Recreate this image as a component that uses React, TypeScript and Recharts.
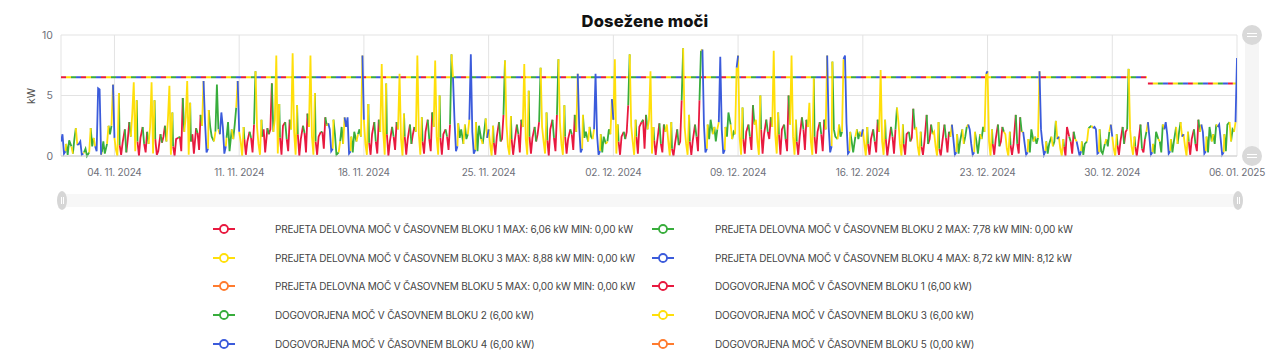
import React from 'react';
import { LineChart, Line, XAxis, YAxis, CartesianGrid } from 'recharts';

// ---- time structure (hours from 01.11.2024 00:00) ----
const SLOT_HOURS = [0, 2, 4, 6, 7, 9, 11, 14, 16, 18, 20, 22];
const WORKDAY_BLOCKS = [3, 3, 3, 2, 1, 1, 1, 2, 1, 1, 2, 3];
const FREEDAY_BLOCKS = [4, 4, 4, 3, 2, 2, 2, 3, 2, 2, 3, 4];
// day indexes (0 = 01.11.2024) that are weekends or holidays
const FREE_DAYS = [0, 1, 2, 8, 9, 15, 16, 22, 23, 29, 30, 36, 37, 43, 44, 50, 51, 54, 55, 57, 58, 61, 62, 64, 65];

// ---- measured power (kW), one row per day, one value per slot ----
const NOVEMBER: number[][] = [
  [1.2, 1.8, 0.2, 0.4, 1.0, 0.1, 1.3, 0.8, 0.2, 1.4, 2.3, 0.9],
  [1.0, 1.2, 0.1, 0.2, 0.3, 0.6, 0.0, 0.3, 2.3, 0.8, 1.5, 0.8],
  [0.4, 5.6, 5.5, 0.1, 0.3, 1.2, 0.2, 1.0, 2.5, 1.8, 2.5, 5.9],
  [1.5, 0.5, 0.0, 5.2, 0.9, 0.1, 1.1, 2.2, 0.3, 1.4, 2.8, 1.6],
  [3.5, 6.1, 0.4, 4.6, 1.2, 0.0, 1.5, 2.4, 1.0, 0.3, 2.0, 1.0],
  [2.4, 6.1, 0.2, 4.6, 1.4, 0.1, 0.4, 1.8, 1.1, 1.6, 2.5, 1.2],
  [3.0, 5.8, 0.1, 3.6, 0.8, 0.0, 1.4, 1.5, 1.6, 0.4, 4.8, 2.0],
  [3.2, 6.2, 0.1, 4.4, 1.2, 1.8, 0.2, 2.3, 1.9, 0.5, 3.4, 2.5],
  [6.2, 2.8, 0.3, 0.6, 3.8, 2.4, 1.6, 1.2, 2.0, 5.9, 2.2, 1.8],
  [3.6, 2.4, 0.2, 0.8, 1.5, 2.8, 0.4, 2.2, 1.4, 2.6, 4.0, 6.2],
  [2.0, 1.2, 0.0, 2.4, 1.4, 0.1, 1.2, 2.0, 1.5, 0.3, 2.6, 7.0],
  [2.4, 1.0, 0.1, 3.0, 1.6, 2.2, 0.3, 2.3, 1.8, 2.2, 6.0, 2.0],
  [3.0, 8.3, 0.2, 4.3, 1.5, 0.1, 2.5, 2.8, 1.4, 0.4, 3.0, 2.2],
  [8.5, 2.0, 0.1, 4.2, 1.8, 0.0, 1.4, 2.5, 1.9, 0.3, 3.5, 2.4],
  [8.3, 1.6, 0.1, 5.2, 1.2, 0.1, 1.6, 2.0, 2.0, 0.6, 3.2, 2.5],
  [2.7, 2.2, 0.4, 0.6, 3.0, 1.8, 0.1, 0.3, 1.2, 2.4, 1.0, 3.2],
  [2.4, 3.2, 0.2, 0.4, 1.6, 0.3, 2.0, 1.2, 1.8, 2.2, 1.6, 8.3],
  [3.0, 1.0, 0.1, 4.3, 1.1, 0.1, 1.8, 2.8, 1.2, 0.2, 3.0, 2.0],
  [7.6, 2.0, 0.1, 6.0, 1.8, 0.0, 1.2, 2.4, 1.6, 0.5, 2.8, 2.2],
  [6.8, 1.4, 0.0, 3.5, 1.6, 0.1, 1.4, 2.6, 1.0, 1.8, 2.4, 2.0],
  [8.3, 1.8, 0.1, 3.2, 1.2, 0.2, 2.0, 3.0, 1.4, 0.4, 3.6, 2.4],
  [7.9, 1.6, 0.1, 5.0, 1.5, 0.1, 1.8, 2.2, 1.6, 0.5, 2.6, 8.4],
  [6.5, 3.0, 0.4, 0.8, 2.7, 1.5, 2.2, 1.0, 2.6, 1.4, 1.8, 3.0],
  [8.4, 2.0, 0.2, 0.5, 2.8, 0.4, 2.5, 1.4, 1.0, 2.0, 3.1, 1.5],
  [2.2, 1.0, 0.0, 2.5, 1.1, 0.1, 1.6, 2.8, 1.2, 1.4, 3.4, 7.9],
  [2.6, 0.8, 0.1, 3.3, 1.4, 0.1, 1.2, 2.6, 1.8, 0.3, 3.0, 2.4],
  [7.6, 1.4, 0.1, 5.4, 1.6, 0.2, 1.5, 2.4, 1.2, 1.8, 2.8, 7.3],
  [2.4, 1.2, 0.2, 3.6, 1.3, 0.0, 2.2, 3.0, 1.5, 0.4, 3.4, 8.0],
  [2.8, 1.0, 0.1, 4.2, 1.6, 0.2, 1.4, 2.2, 1.8, 0.5, 3.4, 2.0],
  [6.8, 2.4, 0.3, 0.6, 3.4, 1.5, 2.0, 1.2, 2.4, 1.6, 1.4, 2.2],
];
const DECEMBER: number[][] = [
  [6.8, 1.8, 0.1, 0.4, 1.8, 0.3, 1.6, 1.0, 1.2, 2.2, 1.8, 4.7],
  [3.0, 8.0, 0.2, 2.6, 1.2, 0.1, 1.6, 2.0, 1.4, 2.0, 4.2, 8.4],
  [2.5, 1.2, 0.1, 3.0, 1.6, 0.2, 2.4, 2.8, 3.0, 0.6, 3.4, 2.2],
  [3.0, 7.0, 0.2, 2.4, 1.3, 0.1, 1.2, 2.7, 1.0, 0.3, 2.6, 2.0],
  [2.6, 1.2, 0.0, 2.8, 0.6, 0.0, 1.0, 2.2, 0.9, 1.2, 4.6, 8.9],
  [2.4, 1.0, 0.1, 3.4, 1.2, 0.1, 1.3, 2.6, 1.6, 0.4, 4.6, 8.7],
  [8.8, 2.6, 0.3, 0.6, 2.6, 1.4, 3.0, 1.8, 2.4, 1.2, 2.2, 2.8],
  [8.2, 2.2, 0.2, 0.5, 2.4, 1.6, 3.6, 2.6, 1.4, 2.0, 1.8, 7.3],
  [8.3, 1.6, 0.1, 4.0, 1.4, 0.2, 2.0, 2.6, 1.6, 0.5, 4.2, 2.6],
  [3.0, 1.2, 0.1, 5.0, 2.2, 0.2, 1.8, 3.0, 2.0, 1.4, 3.2, 2.4],
  [8.7, 1.8, 0.2, 3.6, 1.8, 0.1, 2.2, 2.6, 1.4, 0.4, 5.0, 2.6],
  [8.3, 1.6, 0.1, 3.0, 1.2, 0.1, 1.6, 3.2, 2.2, 0.5, 3.0, 2.4],
  [4.4, 1.2, 0.1, 6.4, 1.6, 0.2, 2.0, 2.8, 1.8, 0.4, 3.0, 2.2],
  [8.3, 2.4, 0.3, 0.8, 7.8, 2.2, 1.6, 1.4, 2.6, 1.6, 2.0, 8.0],
  [8.3, 2.7, 0.2, 0.4, 2.0, 1.2, 0.3, 1.6, 2.2, 1.4, 2.0, 1.6],
  [2.2, 1.0, 0.0, 2.4, 1.0, 0.1, 1.4, 2.2, 1.2, 0.3, 3.0, 2.0],
  [7.1, 1.2, 0.1, 3.0, 1.4, 0.0, 1.0, 2.4, 1.6, 0.2, 2.2, 4.0],
  [2.8, 1.0, 0.0, 2.6, 1.0, 0.1, 1.8, 2.0, 1.2, 1.5, 3.9, 2.2],
  [2.3, 0.8, 0.0, 2.0, 0.8, 0.1, 1.2, 3.4, 1.0, 1.4, 2.6, 1.8],
  [2.0, 0.8, 0.0, 2.8, 0.6, 0.0, 1.1, 2.6, 1.5, 0.3, 2.0, 1.6],
  [2.6, 1.4, 0.1, 0.3, 1.8, 0.2, 1.2, 2.2, 1.0, 1.6, 2.4, 2.6],
  [2.2, 1.0, 0.1, 0.3, 2.0, 1.2, 0.2, 1.8, 1.4, 2.4, 2.0, 6.8],
  [7.0, 1.2, 0.0, 2.2, 1.0, 0.1, 1.4, 2.6, 0.8, 1.2, 2.4, 2.0],
  [1.8, 0.6, 0.0, 2.0, 0.9, 0.1, 1.0, 3.4, 1.0, 0.2, 3.2, 2.0],
  [2.0, 1.0, 0.1, 0.3, 1.4, 0.3, 2.2, 1.2, 1.6, 1.0, 1.5, 7.0],
  [2.2, 1.0, 0.1, 0.4, 1.2, 0.2, 1.0, 1.6, 0.8, 1.2, 2.9, 1.4],
  [1.6, 0.6, 0.0, 1.4, 0.8, 0.0, 2.4, 1.6, 1.2, 0.2, 2.0, 1.4],
  [1.2, 0.6, 0.0, 0.4, 1.2, 0.1, 1.0, 1.2, 2.3, 2.4, 2.5, 2.3],
  [2.4, 2.2, 0.2, 0.3, 2.2, 0.4, 0.2, 1.0, 1.4, 0.8, 2.0, 2.6],
  [1.6, 0.6, 0.0, 1.8, 0.9, 0.1, 1.2, 2.4, 1.0, 2.0, 2.2, 7.2],
  [2.2, 0.8, 0.1, 1.6, 0.8, 0.0, 1.0, 2.6, 0.6, 0.3, 1.4, 2.0],
];
const JANUARY: number[][] = [
  [2.8, 1.6, 0.1, 0.3, 1.0, 0.2, 2.0, 1.4, 1.2, 0.3, 2.6, 2.2],
  [2.8, 1.8, 0.2, 0.4, 1.4, 0.3, 1.2, 2.4, 1.0, 2.0, 2.8, 1.6],
  [1.8, 0.8, 0.0, 2.0, 1.2, 0.1, 1.4, 2.2, 1.0, 0.4, 3.0, 2.0],
  [2.6, 2.0, 0.2, 0.4, 1.6, 0.3, 2.4, 1.2, 1.8, 1.0, 2.6, 2.4],
  [2.6, 1.4, 0.1, 0.3, 1.8, 0.4, 2.6, 2.8, 1.2, 2.2, 2.0, 2.8],
];
const END_VALUE = 8.1; // 06.01.2025 00:00

// ---- contracted power lines (kW) ----
const AGREED_START_DAYS = [0, 61];
const AGREED_END_DAYS = [60.95, 66];
const AGREED_VALUES = [6.5, 6.0];

// ---- axis ----
const TICK_DAYS = [3, 10, 17, 24, 31, 38, 45, 52, 59, 66];
const TICK_LABELS = ['04. 11. 2024', '11. 11. 2024', '18. 11. 2024', '25. 11. 2024', '02. 12. 2024', '09. 12. 2024', '16. 12. 2024', '23. 12. 2024', '30. 12. 2024', '06. 01. 2025'];
const Y_TICKS = [0, 5, 10];

// ---- legend ----
const RED = '#e8193f';
const GREEN = '#38ad3c';
const YELLOW = '#ffdf0a';
const BLUE = '#3b5bdb';
const ORANGE = '#ff7b2e';
const BLOCK_COLORS = [RED, GREEN, YELLOW, BLUE, ORANGE];
const LEGEND_LABELS = [
  'PREJETA DELOVNA MOČ V ČASOVNEM BLOKU 1 MAX: 6,06 kW MIN: 0,00 kW',
  'PREJETA DELOVNA MOČ V ČASOVNEM BLOKU 2 MAX: 7,78 kW MIN: 0,00 kW',
  'PREJETA DELOVNA MOČ V ČASOVNEM BLOKU 3 MAX: 8,88 kW MIN: 0,00 kW',
  'PREJETA DELOVNA MOČ V ČASOVNEM BLOKU 4 MAX: 8,72 kW MIN: 8,12 kW',
  'PREJETA DELOVNA MOČ V ČASOVNEM BLOKU 5 MAX: 0,00 kW MIN: 0,00 kW',
  'DOGOVORJENA MOČ V ČASOVNEM BLOKU 1 (6,00 kW)',
  'DOGOVORJENA MOČ V ČASOVNEM BLOKU 2 (6,00 kW)',
  'DOGOVORJENA MOČ V ČASOVNEM BLOKU 3 (6,00 kW)',
  'DOGOVORJENA MOČ V ČASOVNEM BLOKU 4 (6,00 kW)',
  'DOGOVORJENA MOČ V ČASOVNEM BLOKU 5 (0,00 kW)',
];
const LEGEND_COLORS = [RED, GREEN, YELLOW, BLUE, ORANGE, RED, GREEN, YELLOW, BLUE, ORANGE];

type Pt = { t: number; b1: number | null; b2: number | null; b3: number | null; b4: number | null };

function emptyPt(t: number): Pt {
  return { t, b1: null, b2: null, b3: null, b4: null };
}

function buildMeasured(): Pt[] {
  const days = [...NOVEMBER, ...DECEMBER, ...JANUARY];
  const slots: { t: number; v: number; b: number }[] = [];
  days.forEach((row, d) => {
    const blocks = FREE_DAYS.includes(d) ? FREEDAY_BLOCKS : WORKDAY_BLOCKS;
    row.forEach((v, s) => slots.push({ t: d * 24 + SLOT_HOURS[s], v, b: blocks[s] }));
  });
  const pts: Pt[] = [];
  slots.forEach((s, i) => {
    const next = i + 1 < slots.length ? slots[i + 1] : { t: days.length * 24, v: END_VALUE, b: 0 };
    const a: any = emptyPt(s.t);
    a['b' + s.b] = s.v;
    const z: any = emptyPt(next.t);
    z['b' + s.b] = next.v;
    pts.push(a, z);
  });
  return pts;
}

function buildAgreed() {
  const out: { t: number; v: number | null }[] = [];
  AGREED_VALUES.forEach((v, i) => {
    if (i > 0) out.push({ t: (AGREED_START_DAYS[i] - 0.02) * 24, v: null });
    out.push({ t: AGREED_START_DAYS[i] * 24, v });
    out.push({ t: AGREED_END_DAYS[i] * 24, v });
  });
  return out;
}

const MEASURED = buildMeasured();
const AGREED = buildAgreed();
const DASHES = ['5 15', '0 5 5 10', '0 10 5 5', '0 15 5 0'];

const FONT = 'Inter, "Open Sans", "DejaVu Sans", sans-serif';

export default function App() {
  const tickFmt = (t: number) => {
    const i = TICK_DAYS.indexOf(Math.round(t / 24));
    return i >= 0 ? TICK_LABELS[i] : '';
  };
  return (
    <div style={{ position: 'absolute', left: 0, top: 0, width: 1280, height: 359, background: '#fff', fontFamily: FONT }}>
      <div style={{ position: 'absolute', left: 0, width: 1290, top: 11, textAlign: 'center', fontSize: 16.5, fontWeight: 800, color: '#111', letterSpacing: 0.2 }}>
        Dosežene moči
      </div>
      <div style={{ position: 'absolute', left: 24, top: 88, width: 16, height: 16, transform: 'rotate(-90deg)', fontSize: 10.5, color: '#555', textAlign: 'center', lineHeight: '16px' }}>
        kW
      </div>
      <div style={{ position: 'absolute', left: 0, top: 0 }}>
        <LineChart width={1280} height={215} data={MEASURED} margin={{ top: 35, right: 43, left: 0, bottom: 0 }}>
          <CartesianGrid stroke="#e3e3e3" strokeWidth={1} />
          <XAxis
            dataKey="t"
            type="number"
            domain={[0, 66 * 24]}
            ticks={TICK_DAYS.map((d) => d * 24)}
            tickFormatter={tickFmt}
            height={59}
            axisLine={{ stroke: '#cfcfcf' }}
            tickLine={false}
            tick={{ fill: '#6e7079', fontSize: 10, fontFamily: FONT, letterSpacing: -0.2 }}
            tickMargin={7}
            allowDataOverflow
          />
          <YAxis
            type="number"
            domain={[0, 10]}
            ticks={Y_TICKS}
            width={61}
            axisLine={false}
            tickLine={false}
            tick={{ fill: '#6e7079', fontSize: 10.5, fontFamily: FONT }}
            tickMargin={2}
          />
          {[0, 1, 2, 3].map((i) => (
            <Line
              key={'agreed' + i}
              data={AGREED}
              dataKey="v"
              type="linear"
              stroke={BLOCK_COLORS[[0, 2, 1, 3][i]]}
              strokeWidth={2}
              strokeDasharray={DASHES[i]}
              dot={false}
              activeDot={false}
              isAnimationActive={false}
            />
          ))}
          {['b1', 'b2', 'b3', 'b4'].map((k, i) => (
            <Line
              key={k}
              dataKey={k}
              type="linear"
              stroke={BLOCK_COLORS[i]}
              strokeWidth={1.8}
              dot={false}
              activeDot={false}
              connectNulls={false}
              isAnimationActive={false}
            />
          ))}
        </LineChart>
      </div>
      {/* vertical zoom slider */}
      <div style={{ position: 'absolute', left: 1245, top: 35, width: 14, height: 121, background: '#f5f5f5' }} />
      {[35, 156].map((y) => (
        <div key={y} style={{ position: 'absolute', left: 1242, top: y - 10, width: 20, height: 20, borderRadius: 10, background: '#d9d9d9' }}>
          <div style={{ position: 'absolute', left: 5, top: 8, width: 10, height: 1, background: '#fff' }} />
          <div style={{ position: 'absolute', left: 5, top: 11, width: 10, height: 1, background: '#fff' }} />
        </div>
      ))}
      {/* horizontal zoom slider */}
      <div style={{ position: 'absolute', left: 62, top: 194, width: 1176, height: 13, background: '#f7f7f7' }} />
      {[62, 1238].map((x) => (
        <div key={x} style={{ position: 'absolute', left: x - 5, top: 191, width: 10, height: 19, borderRadius: '50%', background: '#d6d6d6' }}>
          <div style={{ position: 'absolute', left: 4, top: 6, width: 1, height: 7, background: '#fff' }} />
          <div style={{ position: 'absolute', left: 6, top: 6, width: 1, height: 7, background: '#fff' }} />
        </div>
      ))}
      {/* legend */}
      {LEGEND_LABELS.map((label, i) => {
        const col = i % 2;
        const row = Math.floor(i / 2);
        const cy = 229 + row * 28.7;
        const iconX = col === 0 ? 213 : 652;
        const textX = col === 0 ? 275 : 715;
        return (
          <div key={i}>
            <svg style={{ position: 'absolute', left: iconX, top: cy - 6 }} width={22} height={12}>
              <line x1={0} y1={6} x2={22} y2={6} stroke={LEGEND_COLORS[i]} strokeWidth={2} />
              <circle cx={11} cy={6} r={4} fill="#fff" stroke={LEGEND_COLORS[i]} strokeWidth={1.8} />
            </svg>
            <div style={{ position: 'absolute', left: textX, top: cy - 8, height: 16, lineHeight: '16px', fontSize: 10, letterSpacing: -0.2, color: '#444', whiteSpace: 'nowrap' }}>
              {label}
            </div>
          </div>
        );
      })}
    </div>
  );
}
